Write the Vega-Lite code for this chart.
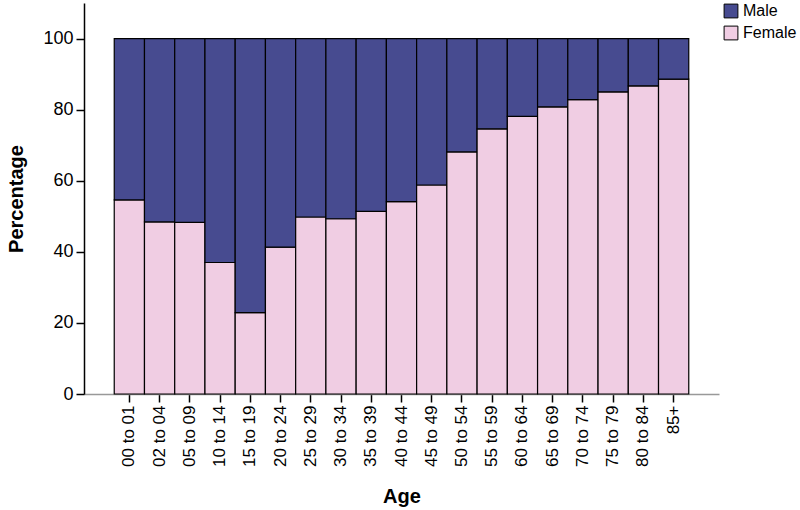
{
  "$schema": "https://vega.github.io/schema/vega-lite/v6.json",
  "autosize": {"type": "none"},
  "padding": {"left": 84, "top": 3, "right": 81, "bottom": 116},
  "width": 635,
  "height": 391,
  "background": "white",
  "config": {
    "view": {"stroke": null},
    "font": "Liberation Sans"
  },
  "data": {
    "values": [
      {"Age": "00 to 01", "Sex": "Female", "Percentage": 54.6},
      {"Age": "00 to 01", "Sex": "Male", "Percentage": 45.4},
      {"Age": "02 to 04", "Sex": "Female", "Percentage": 48.4},
      {"Age": "02 to 04", "Sex": "Male", "Percentage": 51.6},
      {"Age": "05 to 09", "Sex": "Female", "Percentage": 48.3},
      {"Age": "05 to 09", "Sex": "Male", "Percentage": 51.7},
      {"Age": "10 to 14", "Sex": "Female", "Percentage": 37.0},
      {"Age": "10 to 14", "Sex": "Male", "Percentage": 63.0},
      {"Age": "15 to 19", "Sex": "Female", "Percentage": 22.9},
      {"Age": "15 to 19", "Sex": "Male", "Percentage": 77.1},
      {"Age": "20 to 24", "Sex": "Female", "Percentage": 41.3},
      {"Age": "20 to 24", "Sex": "Male", "Percentage": 58.7},
      {"Age": "25 to 29", "Sex": "Female", "Percentage": 49.8},
      {"Age": "25 to 29", "Sex": "Male", "Percentage": 50.2},
      {"Age": "30 to 34", "Sex": "Female", "Percentage": 49.3},
      {"Age": "30 to 34", "Sex": "Male", "Percentage": 50.7},
      {"Age": "35 to 39", "Sex": "Female", "Percentage": 51.4},
      {"Age": "35 to 39", "Sex": "Male", "Percentage": 48.6},
      {"Age": "40 to 44", "Sex": "Female", "Percentage": 54.1},
      {"Age": "40 to 44", "Sex": "Male", "Percentage": 45.9},
      {"Age": "45 to 49", "Sex": "Female", "Percentage": 58.8},
      {"Age": "45 to 49", "Sex": "Male", "Percentage": 41.2},
      {"Age": "50 to 54", "Sex": "Female", "Percentage": 68.1},
      {"Age": "50 to 54", "Sex": "Male", "Percentage": 31.9},
      {"Age": "55 to 59", "Sex": "Female", "Percentage": 74.6},
      {"Age": "55 to 59", "Sex": "Male", "Percentage": 25.4},
      {"Age": "60 to 64", "Sex": "Female", "Percentage": 78.1},
      {"Age": "60 to 64", "Sex": "Male", "Percentage": 21.9},
      {"Age": "65 to 69", "Sex": "Female", "Percentage": 80.8},
      {"Age": "65 to 69", "Sex": "Male", "Percentage": 19.2},
      {"Age": "70 to 74", "Sex": "Female", "Percentage": 82.8},
      {"Age": "70 to 74", "Sex": "Male", "Percentage": 17.2},
      {"Age": "75 to 79", "Sex": "Female", "Percentage": 85.0},
      {"Age": "75 to 79", "Sex": "Male", "Percentage": 15.0},
      {"Age": "80 to 84", "Sex": "Female", "Percentage": 86.7},
      {"Age": "80 to 84", "Sex": "Male", "Percentage": 13.3},
      {"Age": "85+", "Sex": "Female", "Percentage": 88.6},
      {"Age": "85+", "Sex": "Male", "Percentage": 11.4}
    ]
  },
  "mark": {"type": "bar", "stroke": "black", "strokeWidth": 1.2},
  "encoding": {
    "x": {
      "field": "Age",
      "type": "nominal",
      "sort": null,
      "scale": {"paddingInner": 0, "paddingOuter": 1.05},
      "axis": {
        "title": "Age",
        "titleFont": "Liberation Sans",
        "titleFontSize": 20,
        "titleFontWeight": "bold",
        "titleColor": "black",
        "titlePadding": 20,
        "labelAngle": -90,
        "labelFont": "Liberation Sans",
        "labelFontSize": 17,
        "labelColor": "black",
        "labelPadding": 3,
        "tickColor": "black",
        "tickSize": 8,
        "tickWidth": 1.5,
        "domainColor": "#999999",
        "domainWidth": 1.5
      }
    },
    "y": {
      "field": "Percentage",
      "type": "quantitative",
      "stack": "zero",
      "scale": {"domain": [0, 110], "nice": false},
      "axis": {
        "title": "Percentage",
        "titleFont": "Liberation Sans",
        "titleFontSize": 20,
        "titleFontWeight": "bold",
        "titleColor": "black",
        "titlePadding": 16,
        "values": [0, 20, 40, 60, 80, 100],
        "grid": false,
        "labelFont": "Liberation Sans",
        "labelFontSize": 18,
        "labelColor": "black",
        "labelPadding": 3,
        "tickColor": "black",
        "tickSize": 8,
        "tickWidth": 1.5,
        "domainColor": "black",
        "domainWidth": 1.5
      }
    },
    "color": {
      "field": "Sex",
      "type": "nominal",
      "scale": {"domain": ["Male", "Female"], "range": ["#474b90", "#f0cde3"]},
      "legend": {
        "title": null,
        "orient": "none",
        "legendX": 639,
        "legendY": 0,
        "symbolType": "square",
        "symbolSize": 190,
        "symbolStrokeColor": "black",
        "symbolStrokeWidth": 1,
        "symbolOpacity": 1,
        "labelFont": "Liberation Sans",
        "labelFontSize": 16,
        "labelColor": "black",
        "labelOffset": 4,
        "rowPadding": 4
      }
    },
    "order": {"field": "Sex", "sort": "ascending"}
  }
}
